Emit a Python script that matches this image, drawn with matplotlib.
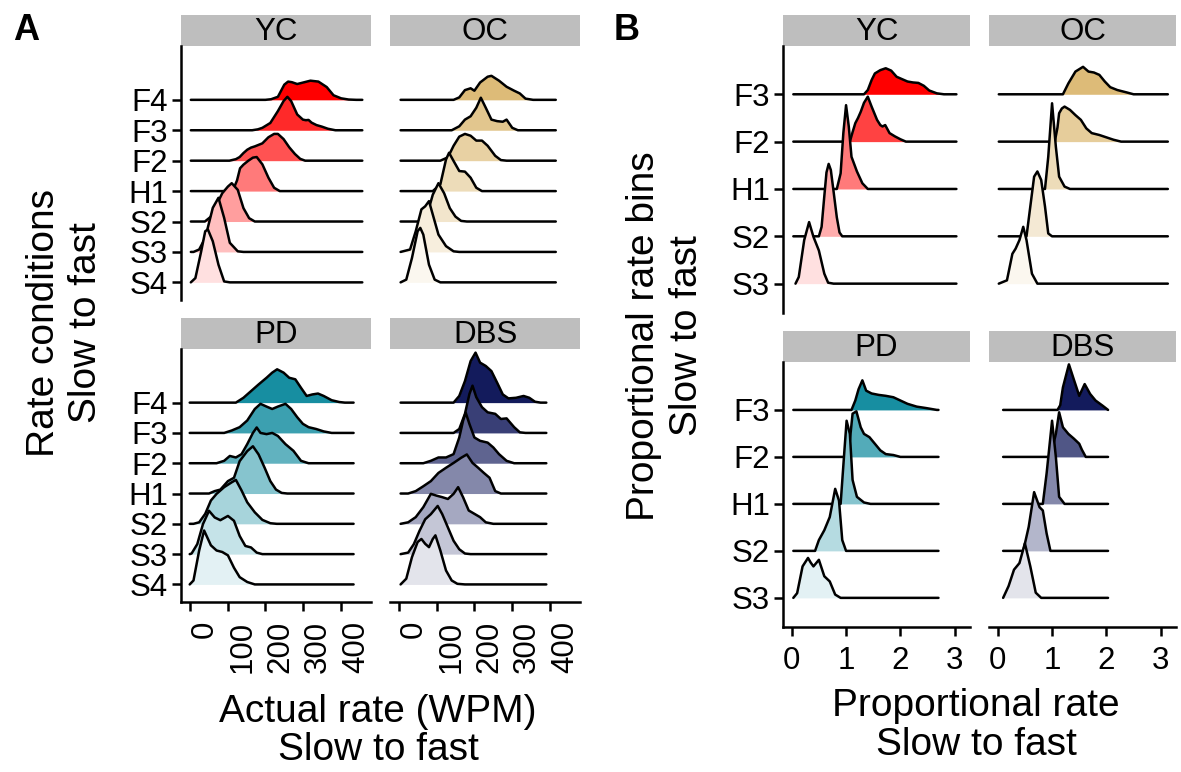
import numpy as np
import matplotlib.pyplot as plt
from matplotlib.colors import to_rgb

plt.rcParams['font.family'] = ['Liberation Sans', 'DejaVu Sans']

W, H = 1181, 772

rate_levels = ["S4", "S3", "S2", "H1", "F2", "F3", "F4"]
prop_levels = ["S3", "S2", "H1", "F2", "F3"]

# ridge outlines: (rate, height in ridge units) read per condition
rate_yc = {
    "S4": [(3, 0), (15, 0.14), (30, 1.0), (41, 1.68), (48, 1.74), (61, 1.35), (76, 0.58), (91, 0.03), (106, 0), (456, 0)],
    "S3": [(3, 0), (10, 0), (25, 0.08), (41, 0.46), (61, 1.45), (76, 1.78), (91, 1.12), (106, 0.3), (127, 0.02), (142, 0), (456, 0)],
    "S2": [(3, 0), (40, 0), (56, 0.16), (71, 0.55), (86, 0.93), (101, 1.15), (111, 1.26), (127, 1.04), (142, 0.44), (157, 0.11), (172, 0), (456, 0)],
    "H1": [(3, 0), (105, 0), (115, 0.05), (125, 0.35), (133, 0.75), (142, 0.87), (155, 1.0), (167, 1.1), (177, 1.12), (192, 0.88), (208, 0.44), (223, 0.11), (238, 0), (456, 0)],
    "F2": [(3, 0), (105, 0), (122, 0.05), (132, 0.12), (142, 0.25), (152, 0.36), (162, 0.43), (172, 0.47), (182, 0.52), (192, 0.57), (208, 0.77), (223, 0.88), (233, 0.88), (248, 0.71), (263, 0.44), (278, 0.22), (292, 0.06), (305, 0), (456, 0)],
    "F3": [(3, 0), (165, 0), (180, 0.03), (192, 0.08), (213, 0.24), (233, 0.63), (248, 0.96), (258, 1.1), (268, 0.96), (284, 0.52), (299, 0.35), (307, 0.33), (314, 0.34), (322, 0.25), (335, 0.17), (349, 0.12), (365, 0.05), (385, 0), (456, 0)],
    "F4": [(3, 0), (200, 0), (215, 0.02), (233, 0.1), (250, 0.5), (260, 0.6), (270, 0.58), (284, 0.52), (300, 0.57), (319, 0.63), (340, 0.6), (362, 0.42), (380, 0.15), (400, 0.05), (420, 0.01), (440, 0), (456, 0)],
}
rate_oc = {
    "S4": [(5, 0), (20, 0.09), (35, 0.8), (50, 1.68), (57, 1.79), (65, 1.57), (80, 0.58), (95, 0.09), (110, 0), (415, 0)],
    "S3": [(5, 0), (30, 0.08), (45, 0.68), (60, 1.4), (70, 1.5), (80, 1.67), (90, 1.23), (105, 0.57), (125, 0.19), (145, 0.02), (160, 0), (415, 0)],
    "S2": [(5, 0), (55, 0), (75, 0.22), (90, 0.88), (105, 1.26), (120, 0.93), (135, 0.44), (150, 0.16), (165, 0.02), (180, 0), (415, 0)],
    "H1": [(5, 0), (90, 0), (110, 0.22), (125, 1.04), (133, 1.26), (145, 0.99), (160, 0.66), (175, 0.64), (190, 0.44), (205, 0.11), (220, 0), (415, 0)],
    "F2": [(5, 0), (110, 0), (130, 0.11), (145, 0.49), (160, 0.79), (175, 0.88), (190, 0.82), (205, 0.66), (220, 0.66), (235, 0.49), (255, 0.16), (270, 0.02), (285, 0), (415, 0)],
    "F3": [(5, 0), (140, 0), (160, 0.13), (175, 0.35), (190, 0.46), (205, 0.74), (217, 1.07), (230, 0.74), (245, 0.35), (260, 0.3), (275, 0.28), (285, 0.35), (300, 0.08), (315, 0), (415, 0)],
    "F4": [(5, 0), (145, 0), (160, 0.08), (175, 0.32), (190, 0.38), (200, 0.3), (215, 0.57), (235, 0.76), (245, 0.79), (265, 0.63), (285, 0.43), (305, 0.3), (320, 0.21), (335, 0.04), (355, 0), (415, 0)],
}
rate_pd = {
    "S4": [(0, 0), (10, 0.13), (25, 1.12), (38, 1.78), (56, 1.29), (71, 1.12), (86, 1.07), (101, 0.96), (117, 0.55), (132, 0.24), (152, 0.08), (172, 0), (433, 0)],
    "S3": [(0, 0), (5, 0.02), (20, 0.33), (35, 0.99), (51, 1.43), (66, 1.21), (81, 1.12), (101, 1.26), (117, 1.1), (132, 0.6), (147, 0.27), (162, 0.22), (177, 0.05), (192, 0), (433, 0)],
    "S2": [(0, 0), (10, 0), (25, 0.05), (41, 0.33), (56, 0.77), (71, 0.99), (91, 1.21), (111, 1.37), (122, 1.45), (137, 1.1), (152, 0.71), (172, 0.38), (192, 0.13), (213, 0.02), (230, 0), (433, 0)],
    "H1": [(0, 0), (51, 0), (66, 0.08), (81, 0.13), (101, 0.41), (117, 0.52), (132, 1.07), (152, 1.4), (167, 1.56), (182, 1.29), (198, 0.85), (213, 0.41), (228, 0.13), (243, 0.02), (258, 0), (433, 0)],
    "F2": [(0, 0), (71, 0), (91, 0.08), (106, 0.24), (122, 0.19), (137, 0.3), (152, 0.63), (167, 1.0), (177, 1.18), (187, 1.0), (203, 0.96), (218, 1.0), (233, 0.9), (253, 0.63), (274, 0.41), (294, 0.08), (314, 0), (433, 0)],
    "F3": [(0, 0), (91, 0), (111, 0.08), (132, 0.19), (152, 0.41), (172, 0.79), (187, 0.96), (203, 0.87), (218, 0.79), (233, 0.87), (253, 0.96), (268, 0.79), (284, 0.52), (299, 0.3), (314, 0.19), (334, 0.13), (354, 0.05), (375, 0), (433, 0)],
    "F4": [(0, 0), (122, 0), (142, 0.16), (162, 0.38), (182, 0.6), (203, 0.82), (218, 0.99), (231, 1.1), (248, 0.99), (263, 0.82), (279, 0.77), (294, 0.49), (309, 0.22), (324, 0.27), (339, 0.3), (354, 0.22), (375, 0.08), (395, 0.02), (410, 0), (433, 0)],
}
rate_dbs = {
    "S4": [(5, 0), (20, 0.19), (35, 0.9), (50, 1.4), (60, 1.5), (70, 1.34), (80, 1.23), (90, 1.5), (97, 1.62), (110, 1.12), (125, 0.46), (140, 0.13), (155, 0.02), (175, 0), (390, 0)],
    "S3": [(5, 0), (25, 0.05), (40, 0.33), (55, 0.77), (70, 1.15), (85, 1.32), (103, 1.59), (115, 1.32), (130, 0.88), (145, 0.44), (160, 0.16), (175, 0.02), (190, 0), (390, 0)],
    "S2": [(5, 0), (25, 0.05), (45, 0.22), (65, 0.55), (85, 0.99), (100, 0.93), (115, 0.88), (130, 0.82), (145, 0.99), (157, 1.21), (170, 0.88), (185, 0.44), (200, 0.33), (215, 0.22), (230, 0.05), (250, 0), (390, 0)],
    "H1": [(5, 0), (25, 0), (45, 0.08), (65, 0.24), (85, 0.41), (105, 0.68), (125, 0.85), (145, 1.01), (165, 1.18), (180, 1.29), (195, 1.01), (210, 0.85), (225, 0.68), (240, 0.52), (255, 0.08), (270, 0), (390, 0)],
    "F2": [(5, 0), (65, 0), (85, 0.08), (105, 0.19), (125, 0.19), (145, 0.3), (160, 0.85), (170, 1.4), (177, 1.67), (187, 1.29), (200, 0.85), (215, 0.74), (235, 0.68), (250, 0.52), (265, 0.3), (285, 0.08), (305, 0), (390, 0)],
    "F3": [(5, 0), (145, 0), (160, 0.13), (175, 0.63), (187, 1.29), (195, 1.56), (205, 1.18), (220, 0.85), (235, 0.68), (255, 0.63), (270, 0.46), (285, 0.48), (305, 0.19), (320, 0.02), (335, 0), (390, 0)],
    "F4": [(5, 0), (145, 0), (160, 0.22), (175, 0.71), (190, 1.37), (203, 1.65), (215, 1.32), (230, 1.21), (245, 1.04), (260, 0.66), (275, 0.27), (290, 0.14), (310, 0.16), (330, 0.22), (345, 0.16), (360, 0.03), (375, 0), (390, 0)],
}

prop_yc = {
    "S3": [(0.07, 0), (0.13, 0.14), (0.23, 0.92), (0.32, 1.3), (0.4, 0.99), (0.5, 0.7), (0.6, 0.21), (0.67, 0.02), (0.77, 0), (3.03, 0)],
    "S2": [(0.03, 0), (0.5, 0), (0.55, 0.2), (0.6, 0.85), (0.64, 1.35), (0.68, 1.53), (0.72, 1.4), (0.77, 0.95), (0.83, 0.4), (0.88, 0.08), (0.93, 0), (3.03, 0)],
    "H1": [(0.03, 0), (0.83, 0), (0.9, 0.33), (0.95, 1.18), (1.0, 1.77), (1.05, 1.32), (1.1, 0.68), (1.2, 0.37), (1.3, 0.12), (1.4, 0), (3.03, 0)],
    "F2": [(0.03, 0), (1.07, 0), (1.12, 0.2), (1.17, 0.39), (1.22, 0.5), (1.27, 0.63), (1.33, 0.82), (1.4, 0.95), (1.47, 0.74), (1.57, 0.46), (1.63, 0.35), (1.67, 0.32), (1.72, 0.35), (1.8, 0.18), (1.9, 0.11), (2.0, 0.05), (2.1, 0), (3.03, 0)],
    "F3": [(0.03, 0), (1.33, 0), (1.4, 0.09), (1.47, 0.3), (1.53, 0.44), (1.63, 0.51), (1.73, 0.55), (1.83, 0.5), (1.93, 0.37), (2.03, 0.32), (2.13, 0.27), (2.23, 0.25), (2.33, 0.24), (2.43, 0.18), (2.53, 0.08), (2.67, 0.02), (2.8, 0), (3.03, 0)],
}
prop_oc = {
    "S3": [(0.02, 0), (0.17, 0.07), (0.27, 0.63), (0.33, 0.74), (0.4, 0.92), (0.47, 1.2), (0.53, 0.92), (0.63, 0.21), (0.73, 0), (3.13, 0)],
    "S2": [(0.02, 0), (0.53, 0), (0.6, 0.63), (0.67, 1.26), (0.73, 1.37), (0.8, 1.19), (0.87, 0.63), (0.93, 0.06), (1.0, 0), (3.13, 0)],
    "H1": [(0.02, 0), (0.87, 0), (0.93, 0.68), (1.0, 1.81), (1.07, 0.89), (1.13, 0.26), (1.23, 0.05), (1.33, 0), (3.13, 0)],
    "F2": [(0.02, 0), (1.05, 0), (1.1, 0.3), (1.13, 0.6), (1.18, 0.7), (1.23, 0.74), (1.33, 0.67), (1.43, 0.56), (1.53, 0.46), (1.63, 0.28), (1.73, 0.18), (1.87, 0.14), (2.0, 0.09), (2.13, 0.04), (2.27, 0), (3.13, 0)],
    "F3": [(0.02, 0), (1.2, 0), (1.3, 0.23), (1.43, 0.48), (1.57, 0.58), (1.67, 0.48), (1.77, 0.46), (1.87, 0.41), (1.97, 0.27), (2.07, 0.15), (2.2, 0.09), (2.37, 0.04), (2.5, 0), (3.13, 0)],
}
prop_pd = {
    "S3": [(0.03, 0), (0.1, 0.1), (0.2, 0.67), (0.3, 0.85), (0.35, 0.75), (0.4, 0.67), (0.5, 0.81), (0.6, 0.46), (0.7, 0.35), (0.8, 0.07), (0.9, 0), (2.7, 0)],
    "S2": [(0.03, 0), (0.43, 0), (0.5, 0.23), (0.6, 0.44), (0.7, 0.72), (0.8, 1.32), (0.87, 1.07), (0.93, 0.23), (1.0, 0), (2.7, 0)],
    "H1": [(0.03, 0), (0.9, 0), (0.97, 1.14), (1.01, 1.77), (1.07, 1.49), (1.12, 0.51), (1.2, 0.15), (1.33, 0.03), (1.45, 0), (2.7, 0)],
    "F2": [(0.03, 0), (1.0, 0), (1.07, 0.35), (1.12, 0.92), (1.19, 0.97), (1.27, 0.63), (1.33, 0.49), (1.43, 0.42), (1.53, 0.28), (1.63, 0.14), (1.73, 0.06), (1.87, 0.04), (2.0, 0), (2.7, 0)],
    "F3": [(0.03, 0), (1.1, 0), (1.17, 0.2), (1.23, 0.44), (1.3, 0.63), (1.37, 0.41), (1.47, 0.35), (1.6, 0.32), (1.73, 0.3), (1.87, 0.27), (2.0, 0.2), (2.13, 0.13), (2.3, 0.07), (2.47, 0.04), (2.67, 0), (2.7, 0)],
}
prop_dbs = {
    "S3": [(0.1, 0), (0.2, 0.25), (0.3, 0.6), (0.4, 0.74), (0.5, 1.16), (0.6, 0.67), (0.7, 0.11), (0.8, 0), (2.03, 0)],
    "S2": [(0.1, 0), (0.47, 0), (0.57, 0.51), (0.67, 1.25), (0.77, 0.93), (0.83, 0.86), (0.9, 0.37), (0.97, 0), (2.03, 0)],
    "H1": [(0.1, 0), (0.83, 0), (0.9, 0.65), (1.0, 1.77), (1.07, 1.0), (1.13, 0.15), (1.23, 0), (2.03, 0)],
    "F2": [(0.1, 0), (0.97, 0), (1.07, 0.49), (1.13, 0.95), (1.2, 0.63), (1.3, 0.49), (1.4, 0.39), (1.5, 0.28), (1.55, 0.15), (1.62, 0), (2.03, 0)],
    "F3": [(0.1, 0), (1.1, 0), (1.15, 0.1), (1.2, 0.48), (1.31, 0.97), (1.4, 0.65), (1.5, 0.3), (1.6, 0.55), (1.7, 0.34), (1.8, 0.2), (1.93, 0.09), (2.03, 0)],
}

group_colors = {"YC": "#FF0000", "OC": "#DDBB78", "PD": "#178EA1", "DBS": "#131B5C"}
rate_shades = [0.12, 0.25, 0.38, 0.52, 0.68, 0.84, 1.0]
prop_shades = [0.12, 0.32, 0.52, 0.74, 1.0]

rate_ticks = [0, 100, 200, 300, 400]
prop_ticks = [0, 1, 2, 3]

TICK_SIZE = 22.5
TITLE_SIZE = 28
LW = 1.8


def px_axes(fig, x0, y0, x1, y1, **kw):
    return fig.add_axes([x0 / W, 1 - y1 / H, (x1 - x0) / W, (y1 - y0) / H], **kw)


def draw_ridges(ax, ridges, levels, base, shades):
    base = np.array(to_rgb(base))
    n = len(levels)
    # top ridge first so the lower ones sit in front
    for i in range(n - 1, -1, -1):
        pts = np.array(ridges[levels[i]], dtype=float)
        x, h = pts[:, 0], pts[:, 1]
        y0 = i + 1
        fill = 1 - shades[i] * (1 - base)
        z = 2 * (n - i)
        ax.fill_between(x, y0, y0 + h, color=fill, lw=0, zorder=z)
        ax.plot(x, y0 + h, color="black", lw=LW, zorder=z + 1,
                solid_joinstyle="round", solid_capstyle="round")


def facet(fig, box, strip_h, name, ridges, levels, shades, xlim, ylim,
          xticks, show_y, show_x, rotate_x):
    x0, y0, x1, y1 = box
    strip = px_axes(fig, x0, y0 - strip_h, x1, y0)
    strip.set_facecolor("#BEBEBE")
    strip.set_xticks([])
    strip.set_yticks([])
    for s in strip.spines.values():
        s.set_visible(False)
    strip.text(0.5, 0.45, name, ha="center", va="center", fontsize=TICK_SIZE,
               transform=strip.transAxes)

    ax = px_axes(fig, x0, y0, x1, y1)
    draw_ridges(ax, ridges, levels, group_colors[name], shades)
    ax.set_xlim(*xlim)
    ax.set_ylim(*ylim)
    for side in ("top", "right"):
        ax.spines[side].set_visible(False)
    ax.spines["left"].set_visible(show_y)
    ax.spines["bottom"].set_visible(show_x)
    for s in ax.spines.values():
        s.set_linewidth(LW)
    ax.tick_params(width=LW, length=6.5, labelsize=TICK_SIZE, colors="black")
    ax.tick_params(axis="y", pad=3)
    if show_y:
        ax.set_yticks(range(1, len(levels) + 1))
        ax.set_yticklabels(levels)
    else:
        ax.set_yticks([])
    if show_x:
        ax.set_xticks(xticks)
        if rotate_x:
            ax.set_xticklabels([str(t) for t in xticks], rotation=90,
                               ha="left", va="top")
        else:
            ax.set_xticklabels([str(t) for t in xticks])
        ax.tick_params(axis="x", pad=7)
    else:
        ax.set_xticks([])
    return ax


fig = plt.figure(figsize=(W / 100, H / 100), dpi=100)

# Panel A: actual rate per condition
rate_xlim = (-23, 479)
rate_ylim = (0.42, 8.77)
a_cols = [(181, 371), (390, 580)]
a_rows = [(46, 300), (349, 602)]
a_data = [[("YC", rate_yc), ("OC", rate_oc)], [("PD", rate_pd), ("DBS", rate_dbs)]]
for r, (ya, yb) in enumerate(a_rows):
    for c, (xa, xb) in enumerate(a_cols):
        name, ridges = a_data[r][c]
        facet(fig, (xa, ya, xb, yb), 31, name, ridges, rate_levels, rate_shades,
              rate_xlim, rate_ylim, rate_ticks, c == 0, r == 1, True)

# Panel B: proportional rate bins
prop_xlim = (-0.16, 3.28)
prop_ylim = (0.38, 6.02)
b_cols = [(783, 970), (989, 1176)]
b_rows = [(46, 313), (362, 627)]
b_data = [[("YC", prop_yc), ("OC", prop_oc)], [("PD", prop_pd), ("DBS", prop_dbs)]]
for r, (ya, yb) in enumerate(b_rows):
    for c, (xa, xb) in enumerate(b_cols):
        name, ridges = b_data[r][c]
        facet(fig, (xa, ya, xb, yb), 31, name, ridges, prop_levels, prop_shades,
              prop_xlim, prop_ylim, prop_ticks, c == 0, r == 1, False)


def ftext(x, y, s, **kw):
    fig.text(x / W, 1 - y / H, s, ha="center", va="center", **kw)


ftext(26, 30, "A", fontsize=26, fontweight="bold")
ftext(627, 30, "B", fontsize=26, fontweight="bold")

ftext(44, 323, "Rate conditions", fontsize=TITLE_SIZE, rotation=90)
ftext(86, 323, "Slow to fast", fontsize=TITLE_SIZE, rotation=90)
ftext(378, 712, "Actual rate (WPM)", fontsize=TITLE_SIZE)
ftext(378, 750, "Slow to fast", fontsize=TITLE_SIZE)

ftext(644, 336, "Proportional rate bins", fontsize=TITLE_SIZE, rotation=90)
ftext(687, 336, "Slow to fast", fontsize=TITLE_SIZE, rotation=90)
ftext(976, 706, "Proportional rate", fontsize=TITLE_SIZE)
ftext(976, 745, "Slow to fast", fontsize=TITLE_SIZE)

fig.savefig("out.png", dpi=100)
